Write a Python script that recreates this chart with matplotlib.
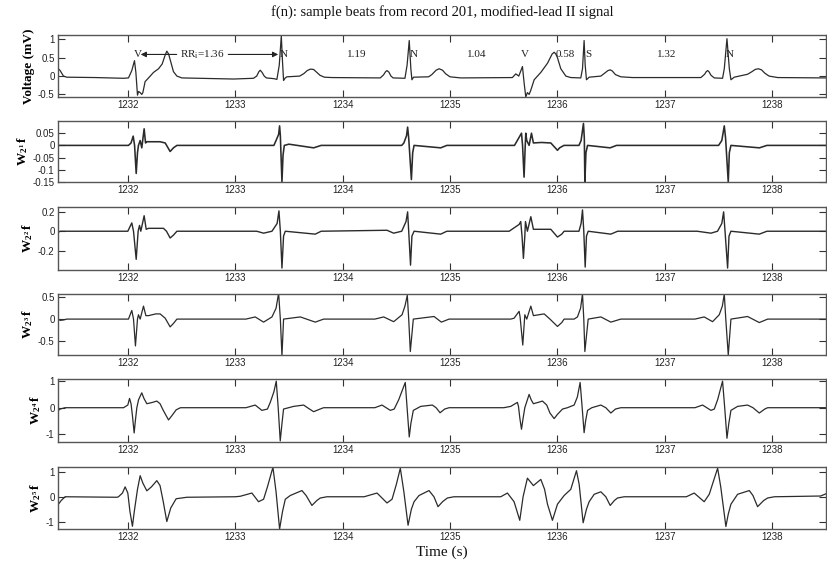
import matplotlib
matplotlib.use("Agg")
import matplotlib.pyplot as plt

plt.rcParams['font.family'] = ['Liberation Sans', 'DejaVu Sans']
plt.rcParams['mathtext.fontset'] = 'custom'
plt.rcParams['mathtext.rm'] = 'Liberation Serif'
plt.rcParams['mathtext.bf'] = 'Liberation Serif:bold'
plt.rcParams['mathtext.it'] = 'Liberation Serif:italic'

# ---------------- data ----------------
xlim = (1231.35, 1238.5)
xticks = [1232, 1233, 1234, 1235, 1236, 1237, 1238]

# f(n): ECG signal (mV)
f_t = [1231.354, 1231.37, 1231.401, 1231.432, 1231.7, 1231.96, 1232.006, 1232.037, 1232.062, 1232.075,
       1232.09, 1232.10, 1232.115, 1232.13, 1232.14, 1232.161, 1232.193, 1232.239, 1232.286, 1232.32,
       1232.345, 1232.363, 1232.38, 1232.394, 1232.425, 1232.457, 1232.503, 1232.984, 1233.17, 1233.2,
       1233.22, 1233.233, 1233.25, 1233.27, 1233.29, 1233.36, 1233.388, 1233.41, 1233.429, 1233.44,
       1233.45, 1233.466, 1233.481, 1233.6, 1233.64, 1233.67, 1233.70, 1233.73, 1233.76, 1233.79,
       1233.83, 1233.9, 1234.35, 1234.38, 1234.40, 1234.413, 1234.43, 1234.45, 1234.47, 1234.58,
       1234.60, 1234.62, 1234.635, 1234.645, 1234.66, 1234.8, 1234.83, 1234.87, 1234.898, 1234.93,
       1234.96, 1235.0, 1235.1, 1235.58, 1235.612, 1235.64, 1235.674, 1235.69, 1235.705, 1235.72,
       1235.736, 1235.75, 1235.783, 1235.845, 1235.907, 1235.95, 1235.969, 1235.985, 1236.0, 1236.031,
       1236.078, 1236.124, 1236.217, 1236.233, 1236.248, 1236.258, 1236.27, 1236.295, 1236.404, 1236.44,
       1236.47, 1236.491, 1236.51, 1236.54, 1236.59, 1236.7, 1237.335, 1237.37, 1237.385, 1237.398,
       1237.41, 1237.43, 1237.46, 1237.537, 1237.553, 1237.578, 1237.60, 1237.615, 1237.646, 1237.77,
       1237.81, 1237.84, 1237.87, 1237.90, 1237.93, 1237.97, 1238.05, 1238.5]
f_v = [0.20, 0.15, 0.0, -0.03, -0.04, -0.06, -0.05, 0.15, 0.42, 0.1,
       -0.52, -0.42, -0.45, -0.5, -0.45, -0.15, -0.05, 0.1, 0.2, 0.33,
       0.55, 0.68, 0.6, 0.45, 0.12, 0.0, -0.05, -0.08, -0.06, 0.0,
       0.12, 0.16, 0.1, 0.0, -0.05, -0.07, -0.09, 0.3, 1.1, 0.4,
       -0.12, -0.05, -0.02, 0.0, 0.07, 0.15, 0.19, 0.18, 0.1, 0.02,
       -0.03, -0.04, -0.05, 0.03, 0.12, 0.15, 0.11, 0.0, -0.05, -0.06,
       0.3, 0.97, 0.2, -0.1, -0.03, -0.02, 0.04, 0.16, 0.2, 0.16,
       0.06, -0.02, -0.05, -0.04, 0.06, 0.0, 0.26, -0.2, -0.57, -0.45,
       -0.5, -0.4, -0.1, 0.1, 0.35, 0.6, 0.65, 0.6, 0.5, 0.2,
       0.0, -0.04, -0.05, 0.2, 0.97, 0.3, -0.1, -0.03, 0.0, 0.08,
       0.15, 0.17, 0.14, 0.04, -0.02, -0.04, -0.04, 0.05, 0.12, 0.15,
       0.12, 0.02, -0.05, -0.06, 0.2, 1.02, 0.2, -0.1, -0.03, 0.05,
       0.12, 0.18, 0.2, 0.17, 0.08, 0.0, -0.04, -0.05]

# W_{2^1} f
w1_t = [1231.354, 1232.006, 1232.03, 1232.05, 1232.063, 1232.078, 1232.09, 1232.099, 1232.115, 1232.13,
        1232.152, 1232.165, 1232.177, 1232.3, 1232.348, 1232.394, 1232.425, 1232.457, 1233.36, 1233.38,
        1233.404, 1233.413, 1233.42, 1233.435, 1233.445, 1233.457, 1233.5, 1233.73, 1233.8, 1234.55,
        1234.57, 1234.595, 1234.605, 1234.615, 1234.64, 1234.652, 1234.665, 1234.913, 1234.97, 1235.6,
        1235.665, 1235.675, 1235.689, 1235.70, 1235.705, 1235.714, 1235.736, 1235.758, 1235.776, 1235.85,
        1235.938, 1236.0, 1236.02, 1236.06, 1236.2, 1236.22, 1236.242, 1236.25, 1236.255, 1236.265,
        1236.28, 1236.49, 1236.55, 1237.5, 1237.53, 1237.553, 1237.565, 1237.59, 1237.6, 1237.615,
        1237.88, 1237.95, 1238.5]
w1_v = [0.0, 0.0, 0.01, 0.038, 0.0, -0.115, -0.03, 0.0, 0.02, -0.01,
        0.068, 0.01, 0.015, 0.015, 0.01, -0.025, -0.01, 0.0, 0.0, 0.02,
        0.045, 0.08, 0.04, -0.15, -0.04, 0.0, 0.005, -0.01, 0.0, 0.0,
        0.01, 0.04, 0.075, 0.03, -0.14, -0.03, 0.0, -0.01, 0.0, 0.0,
        0.05, 0.0, -0.13, 0.0, 0.05, 0.02, 0.0, 0.05, 0.01, 0.012,
        0.01, -0.02, -0.01, 0.0, 0.0, 0.02, 0.09, 0.03, -0.15, -0.03,
        0.0, -0.01, 0.0, 0.0, 0.02, 0.08, 0.03, -0.15, -0.03, 0.0,
        -0.01, 0.0, 0.0]

# W_{2^2} f
w2_t = [1231.354, 1231.37, 1232.0, 1232.037, 1232.053, 1232.078, 1232.096, 1232.109, 1232.121, 1232.152,
        1232.171, 1232.193, 1232.332, 1232.36, 1232.394, 1232.425, 1232.457, 1233.2, 1233.264, 1233.342,
        1233.39, 1233.407, 1233.42, 1233.435, 1233.45, 1233.466, 1233.745, 1233.8, 1234.413, 1234.475,
        1234.55, 1234.59, 1234.605, 1234.615, 1234.632, 1234.645, 1234.665, 1234.913, 1234.97, 1235.55,
        1235.643, 1235.658, 1235.67, 1235.683, 1235.696, 1235.702, 1235.72, 1235.752, 1235.776, 1235.938,
        1236.0, 1236.04, 1236.062, 1236.2, 1236.22, 1236.233, 1236.245, 1236.258, 1236.27, 1236.286,
        1236.497, 1236.56, 1237.3, 1237.429, 1237.49, 1237.53, 1237.547, 1237.56, 1237.584, 1237.597,
        1237.615, 1237.879, 1237.95, 1238.5]
w2_v = [-0.01, 0.0, 0.0, 0.086, 0.0, -0.29, 0.0, 0.06, 0.0, 0.16,
        0.02, 0.03, 0.03, 0.0, -0.07, -0.04, 0.0, 0.0, -0.02, 0.0,
        0.08, 0.21, 0.0, -0.38, -0.05, 0.0, -0.03, 0.0, 0.01, -0.02,
        0.0, 0.1, 0.2, 0.0, -0.35, -0.05, 0.0, -0.03, 0.0, 0.0,
        0.07, 0.1, -0.05, -0.28, -0.05, 0.1, 0.0, 0.15, 0.02, 0.02,
        -0.06, -0.03, 0.0, 0.0, 0.08, 0.22, 0.0, -0.37, -0.05, 0.0,
        -0.03, 0.0, 0.0, -0.02, 0.0, 0.08, 0.2, 0.0, -0.38, -0.05,
        0.0, -0.03, 0.0, 0.0]

# W_{2^3} f
w3_t = [1231.354, 1231.37, 1231.401, 1231.432, 1232.006, 1232.037, 1232.053, 1232.071, 1232.09, 1232.099,
        1232.115, 1232.146, 1232.168, 1232.193, 1232.26, 1232.301, 1232.348, 1232.394, 1232.425, 1232.457,
        1233.1, 1233.186, 1233.264, 1233.342, 1233.38, 1233.404, 1233.42, 1233.435, 1233.45, 1233.512,
        1233.606, 1233.745, 1233.823, 1234.3, 1234.382, 1234.475, 1234.553, 1234.58, 1234.602, 1234.615,
        1234.63, 1234.658, 1234.851, 1234.919, 1234.991, 1235.565, 1235.596, 1235.643, 1235.652, 1235.677,
        1235.696, 1235.714, 1235.752, 1235.776, 1235.876, 1235.93, 1236.0, 1236.04, 1236.062, 1236.155,
        1236.186, 1236.215, 1236.233, 1236.245, 1236.255, 1236.286, 1236.404, 1236.497, 1236.59, 1237.28,
        1237.366, 1237.444, 1237.506, 1237.535, 1237.553, 1237.567, 1237.59, 1237.615, 1237.77, 1237.879,
        1237.957, 1238.5]
w3_v = [0.0, -0.03, -0.02, 0.0, 0.0, 0.2, 0.0, -0.62, 0.0, 0.1,
        0.0, 0.3, 0.08, 0.08, 0.12, 0.12, 0.02, -0.18, -0.1, 0.0,
        0.0, 0.05, -0.07, 0.05, 0.25, 0.6, 0.0, -0.85, 0.0, 0.02,
        0.05, -0.07, 0.0, 0.0, 0.05, -0.06, 0.1, 0.3, 0.55, 0.0,
        -0.75, 0.0, 0.06, -0.07, 0.0, 0.0, 0.02, 0.18, 0.05, -0.6,
        0.1, 0.0, 0.3, 0.08, 0.12, 0.0, -0.17, -0.08, 0.0, 0.0,
        0.05, 0.25, 0.58, 0.0, -0.75, 0.0, 0.05, -0.07, 0.0, 0.0,
        0.05, -0.06, 0.1, 0.3, 0.58, 0.0, -0.83, 0.0, 0.06, -0.08,
        0.0, 0.0]

# W_{2^4} f
w4_t = [1231.354, 1231.37, 1231.416, 1231.96, 1232.0, 1232.016, 1232.03, 1232.043, 1232.059, 1232.07,
        1232.084, 1232.10, 1232.13, 1232.15, 1232.177, 1232.23, 1232.27, 1232.30, 1232.33, 1232.379,
        1232.41, 1232.45, 1232.49, 1233.1, 1233.186, 1233.248, 1233.30, 1233.326, 1233.36, 1233.382,
        1233.40, 1233.419, 1233.435, 1233.45, 1233.544, 1233.637, 1233.68, 1233.73, 1233.79, 1233.823,
        1234.3, 1234.366, 1234.444, 1234.48, 1234.522, 1234.583, 1234.60, 1234.62, 1234.635, 1234.658,
        1234.727, 1234.835, 1234.87, 1234.907, 1234.95, 1234.991, 1235.5, 1235.565, 1235.627, 1235.637,
        1235.65, 1235.665, 1235.68, 1235.696, 1235.72, 1235.736, 1235.755, 1235.776, 1235.82, 1235.86,
        1235.90, 1235.93, 1235.969, 1236.0, 1236.047, 1236.093, 1236.155, 1236.185, 1236.211, 1236.23,
        1236.248, 1236.262, 1236.28, 1236.32, 1236.404, 1236.45, 1236.497, 1236.54, 1236.59, 1237.28,
        1237.351, 1237.429, 1237.46, 1237.491, 1237.537, 1237.557, 1237.578, 1237.595, 1237.615, 1237.677,
        1237.77, 1237.82, 1237.879, 1237.93, 1237.957, 1238.5]
w4_v = [-0.1, -0.05, 0.0, 0.0, 0.1, 0.35, 0.15, -0.3, -0.95, -0.5,
        0.0, 0.3, 0.56, 0.35, 0.15, 0.2, 0.25, 0.15, -0.1, -0.46,
        -0.3, -0.08, 0.0, 0.0, 0.1, -0.1, -0.05, 0.2, 0.6, 1.0,
        0.0, -1.25, -0.6, -0.05, 0.05, 0.1, -0.02, -0.15, -0.05, 0.0,
        0.0, 0.1, -0.1, -0.05, 0.3, 0.95, 0.0, -1.1, -0.6, -0.1,
        0.05, 0.1, 0.0, -0.19, -0.05, 0.0, 0.0, 0.05, 0.2, 0.05,
        -0.4, -0.81, -0.4, 0.0, 0.3, 0.5, 0.3, 0.15, 0.2, 0.25,
        0.1, -0.2, -0.41, -0.25, -0.05, 0.0, 0.1, 0.4, 0.95, 0.0,
        -0.94, -0.5, -0.1, 0.0, 0.1, 0.0, -0.2, -0.05, 0.0, 0.0,
        0.1, -0.1, -0.05, 0.3, 1.0, 0.0, -1.15, -0.6, -0.1, 0.05,
        0.1, 0.0, -0.2, -0.05, 0.0, 0.0]

# W_{2^5} f
w5_t = [1231.354, 1231.38, 1231.416, 1231.9, 1231.913, 1231.95, 1231.975, 1232.0, 1232.02, 1232.043,
        1232.06, 1232.09, 1232.115, 1232.14, 1232.177, 1232.22, 1232.27, 1232.30, 1232.33, 1232.363,
        1232.40, 1232.45, 1232.55, 1233.0, 1233.047, 1233.155, 1233.217, 1233.264, 1233.30, 1233.351,
        1233.38, 1233.413, 1233.44, 1233.466, 1233.512, 1233.55, 1233.621, 1233.66, 1233.714, 1233.76,
        1233.792, 1233.854, 1234.2, 1234.32, 1234.413, 1234.46, 1234.50, 1234.537, 1234.57, 1234.609,
        1234.64, 1234.665, 1234.711, 1234.804, 1234.85, 1234.888, 1234.93, 1234.975, 1235.037, 1235.472,
        1235.534, 1235.596, 1235.649, 1235.68, 1235.72, 1235.776, 1235.845, 1235.88, 1235.907, 1235.953,
        1236.0, 1236.062, 1236.124, 1236.177, 1236.202, 1236.239, 1236.27, 1236.295, 1236.342, 1236.404,
        1236.45, 1236.491, 1236.53, 1236.559, 1236.621, 1237.2, 1237.273, 1237.366, 1237.413, 1237.45,
        1237.491, 1237.52, 1237.568, 1237.59, 1237.615, 1237.677, 1237.786, 1237.82, 1237.863, 1237.92,
        1237.957, 1238.019, 1238.45, 1238.5]
w5_v = [-0.3, -0.15, 0.0, -0.02, 0.0, 0.15, 0.4, 0.15, -0.6, -1.19,
        -0.6, 0.3, 0.85, 0.55, 0.24, 0.4, 0.65, 0.45, -0.2, -1.0,
        -0.45, -0.08, -0.02, 0.0, 0.02, 0.15, -0.2, -0.1, 0.4, 1.19,
        0.2, -1.3, -0.6, -0.1, 0.05, 0.12, 0.25, 0.05, -0.35, -0.15,
        -0.05, 0.0, 0.0, 0.15, -0.25, -0.1, 0.5, 1.15, 0.2, -1.15,
        -0.5, -0.2, 0.05, 0.25, 0.0, -0.4, -0.2, -0.05, 0.0, 0.0,
        0.15, -0.2, -0.95, 0.0, 0.75, 0.45, 0.7, 0.3, -0.3, -0.95,
        -0.3, 0.05, 0.3, 1.05, 0.5, -1.05, -0.5, -0.2, 0.1, 0.2,
        0.0, -0.35, -0.15, -0.05, 0.0, 0.0, 0.15, -0.2, 0.1, 0.6,
        1.15, 0.4, -1.2, -0.7, -0.3, 0.1, 0.25, 0.05, -0.4, -0.15,
        -0.05, 0.0, 0.03, 0.12]

# beat annotations (panel 1)
beat_labels = ['V', 'N', 'N', 'V', 'S', 'N']
beat_label_t = [1232.09, 1233.45, 1234.665, 1235.695, 1236.285, 1237.60]
rr_labels = ['1.19', '1.04', '0.58', '1.32']
rr_label_t = [1234.13, 1235.248, 1236.07, 1237.02]
rr_first_label = 'RR$_\\mathrm{i}$=1.36'
rr_first_t = 1232.695
rr_first_span = (1232.12, 1233.40)
annot_y = 0.59

panels = [
    (f_t, f_v, (-0.57, 1.12), [-0.5, 0, 0.5, 1], ['-0.5', '0', '0.5', '1'], 'Voltage (mV)', 0.9),
    (w1_t, w1_v, (-0.15, 0.1), [-0.15, -0.1, -0.05, 0, 0.05], ['-0.15', '-0.1', '-0.05', '0', '0.05'],
     r'$\mathbf{W}_{\mathbf{2}^{\mathbf{1}}}\,\mathbf{f}$', 1.15),
    (w2_t, w2_v, (-0.4, 0.25), [-0.2, 0, 0.2], ['-0.2', '0', '0.2'],
     r'$\mathbf{W}_{\mathbf{2}^{\mathbf{2}}}\,\mathbf{f}$', 1.0),
    (w3_t, w3_v, (-0.83, 0.58), [-0.5, 0, 0.5], ['-0.5', '0', '0.5'],
     r'$\mathbf{W}_{\mathbf{2}^{\mathbf{3}}}\,\mathbf{f}$', 0.9),
    (w4_t, w4_v, (-1.29, 1.08), [-1, 0, 1], ['-1', '0', '1'],
     r'$\mathbf{W}_{\mathbf{2}^{\mathbf{4}}}\,\mathbf{f}$', 0.9),
    (w5_t, w5_v, (-1.3, 1.2), [-1, 0, 1], ['-1', '0', '1'],
     r'$\mathbf{W}_{\mathbf{2}^{\mathbf{5}}}\,\mathbf{f}$', 0.9),
]

# ---------------- layout ----------------
W, H = 827, 561
fig = plt.figure(figsize=(W / 100, H / 100), dpi=100)
fig.patch.set_facecolor('white')
panel_px = [(35, 97), (121, 182), (207, 270), (294, 355), (379, 442), (467, 529)]
left_px, right_px = 58, 826

serif = ['Liberation Serif', 'DejaVu Serif']
axes = []
for (t, v, ylim, yt, ytl, ylab, lw), (top, bot) in zip(panels, panel_px):
    ax = fig.add_axes([left_px / W, 1 - bot / H, (right_px - left_px) / W, (bot - top) / H])
    ax.plot(t, v, color='#2b2b2b', lw=lw)
    ax.set_xlim(*xlim)
    ax.set_ylim(*ylim)
    ax.set_xticks(xticks)
    ax.set_xticklabels([str(x) for x in xticks])
    ax.set_yticks(yt)
    ax.set_yticklabels(ytl)
    ax.tick_params(direction='in', top=True, right=True, length=5, width=0.8,
                   color='#333333', labelsize=7, pad=2.5, labelcolor='#222222')
    for s in ax.spines.values():
        s.set_color('#555555')
        s.set_linewidth(1.0)
    ax.set_ylabel(ylab, fontsize=9.5, fontweight='bold', family=serif, labelpad=2)
    axes.append(ax)

ax0 = axes[0]
txt_kw = dict(fontsize=8, family=serif, color='#222222', ha='center', va='center')
for lab, tt in zip(beat_labels, beat_label_t):
    ax0.text(tt, annot_y, lab, **txt_kw)
for lab, tt in zip(rr_labels, rr_label_t):
    ax0.text(tt, annot_y, lab, **txt_kw)
ax0.text(rr_first_t, annot_y, rr_first_label, **txt_kw)
arrow_kw = dict(arrowstyle='-|>', color='#222222', lw=0.8, mutation_scale=8, shrinkA=0, shrinkB=0)
ax0.annotate('', xy=(rr_first_span[0], annot_y), xytext=(rr_first_t - 0.24, annot_y), arrowprops=arrow_kw)
ax0.annotate('', xy=(rr_first_span[1], annot_y), xytext=(rr_first_t + 0.24, annot_y), arrowprops=arrow_kw)

fig.text((left_px + right_px) / 2 / W, 1 - 12 / H,
         'f(n): sample beats from record 201, modified-lead II signal',
         ha='center', va='center', fontsize=10.5, family=serif, color='#111111')
fig.text((left_px + right_px) / 2 / W, 1 - 552 / H, 'Time (s)',
         ha='center', va='center', fontsize=11, family=serif, color='#111111')

fig.savefig('out.png', dpi=100, facecolor='white')
